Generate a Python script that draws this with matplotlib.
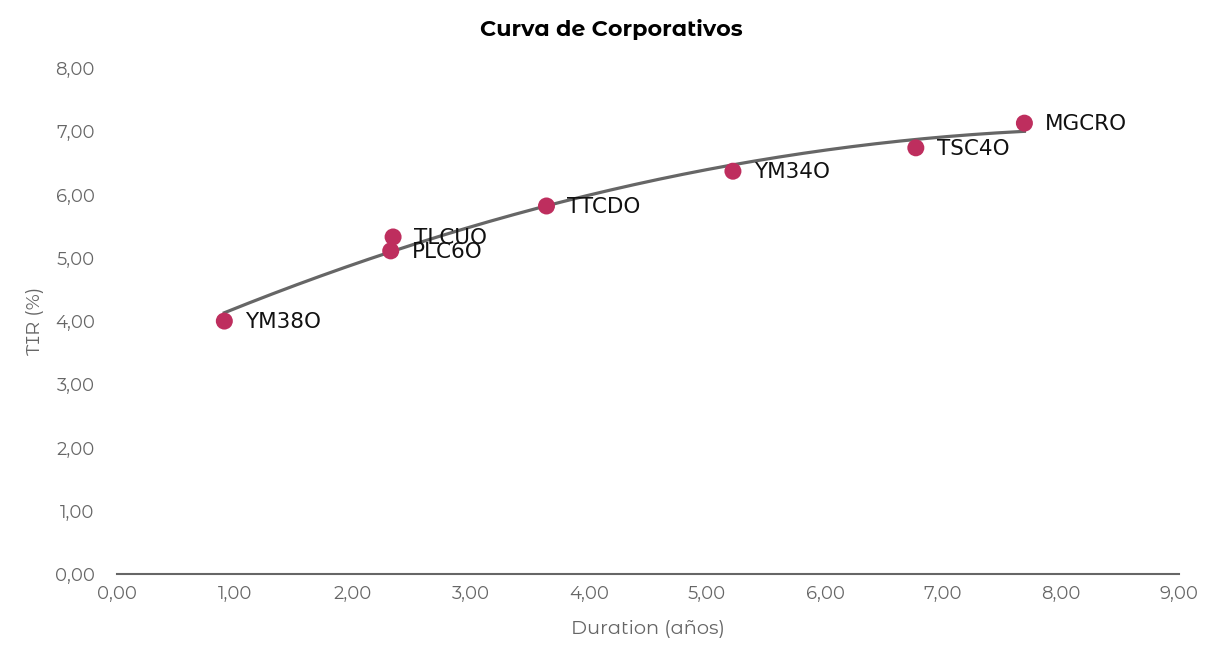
import matplotlib
matplotlib.use("Agg")
import matplotlib.pyplot as plt
import numpy as np

names = ["YM38O", "TLCUO", "PLC6O", "TTCDO", "YM34O", "TSC4O", "MGCRO"]
duration = [0.91, 2.34, 2.32, 3.64, 5.22, 6.77, 7.69]
tir = [4.00, 5.33, 5.11, 5.82, 6.37, 6.74, 7.13]

plt.rcParams['font.family'] = ['Montserrat Alternates', 'Noto Sans', 'DejaVu Sans']

fig = plt.figure(figsize=(12.22, 6.68), dpi=100)
ax = fig.add_axes([0.0957, 0.1407, 0.8691, 0.7573])

# trendline (polynomial order 2 fit of the data)
coef = np.polyfit(duration, tir, 2)
xs = np.linspace(min(duration), max(duration), 200)
ax.plot(xs, np.polyval(coef, xs), color='#666666', lw=2.3, zorder=2)

ax.scatter(duration, tir, s=150, color='#BE2E5E', zorder=3, edgecolors='none')
for n, x, y in zip(names, duration, tir):
    ax.annotate(n, (x, y), xytext=(15, -0.5), textcoords='offset points',
                va='center', ha='left', fontsize=15.5, color='#111111', zorder=4,
                family=['DejaVu Sans'])

ax.set_xlim(0, 9)
ax.set_ylim(0, 8)
ax.set_xticks(np.arange(0, 10, 1))
ax.set_yticks(np.arange(0, 9, 1))
ax.set_xticklabels([f"{v:.2f}".replace('.', ',') for v in np.arange(0, 10, 1)])
ax.set_yticklabels([f"{v:.2f}".replace('.', ',') for v in np.arange(0, 9, 1)])
ax.tick_params(length=0, labelsize=13, colors='#666666', pad=8)
ax.tick_params(axis='y', pad=16)
for s in ['top', 'right', 'left']:
    ax.spines[s].set_visible(False)
ax.spines['bottom'].set_color('#666666')
ax.spines['bottom'].set_linewidth(1.5)
ax.set_xlabel("Duration (años)", fontsize=14, color='#666666', labelpad=12)
ax.set_ylabel("TIR (%)", fontsize=14, color='#666666', labelpad=8)
fig.suptitle("Curva de Corporativos", fontsize=16, fontweight='bold', color='#000000', y=0.972)

fig.savefig("out.png", dpi=100)
